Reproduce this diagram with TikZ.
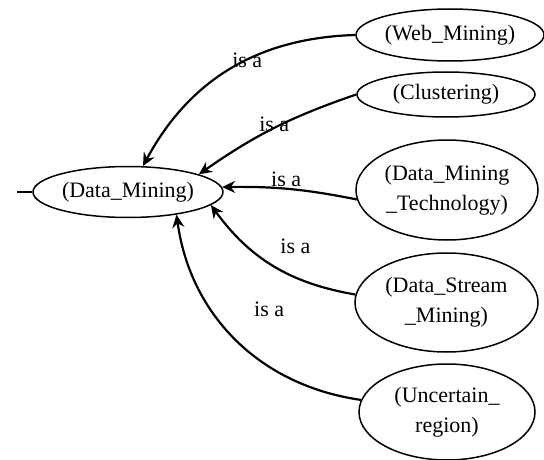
\documentclass[tikz,border=0pt]{standalone}
\usepackage{fontspec}
\setmainfont{Liberation Serif}
\usetikzlibrary{arrows.meta,positioning,shapes.geometric}

\begin{document}
\begin{tikzpicture}[
  x=1pt, y=-1pt,
  font=\fontsize{22}{30}\selectfont,
  concept/.style={ellipse, draw, line width=1.5pt, inner sep=0pt, align=center},
  isa/.style={-{Stealth[length=13pt, width=12pt]}, line width=2.2pt},
  lbl/.style={inner sep=1pt}
]
\useasboundingbox (0,0) rectangle (544,460);
% concepts
\node[concept, minimum width=190pt, minimum height=51pt] (dm) at (128,192) {(Data\_Mining)};
\node[concept, minimum width=188pt, minimum height=52pt] (web) at (450,35) {(Web\_Mining)};
\node[concept, minimum width=178pt, minimum height=45pt] (clu) at (446,94.5) {(Clustering)};
\node[concept, minimum width=182pt, minimum height=100pt] (tech) at (447,190) {(Data\_Mining\\\_Technology)};
\node[concept, minimum width=183pt, minimum height=99pt] (stream) at (446.5,302.5) {(Data\_Stream\\\_Mining)};
\node[concept, minimum width=176pt, minimum height=96pt] (unc) at (447,412) {(Uncertain\_\\region)};
\coordinate (tail) at (17,192);
\draw[line width=1.5pt] (tail) -- (dm.west);
% is a links
\draw[isa] (web.west) to[bend right=30] node[lbl, pos=0.42, above=-10pt] {is a} (dm.60);
\draw[isa] (clu.west) to[bend right=8] node[lbl, pos=0.5, above=-6pt] {is a} (dm.14);
\draw[isa] (tech.186) to[bend right=6] node[lbl, pos=0.53, above] {is a} (dm.3);
\draw[isa] (stream.175) to[bend left=22] node[lbl, pos=0.45, above right={14pt and -2pt}] {is a} (dm.351);
\draw[isa] (unc.172) to[bend left=37] node[lbl, pos=0.5, above right={21pt and 16pt}] {is a} (dm.335);
\end{tikzpicture}
\end{document}
